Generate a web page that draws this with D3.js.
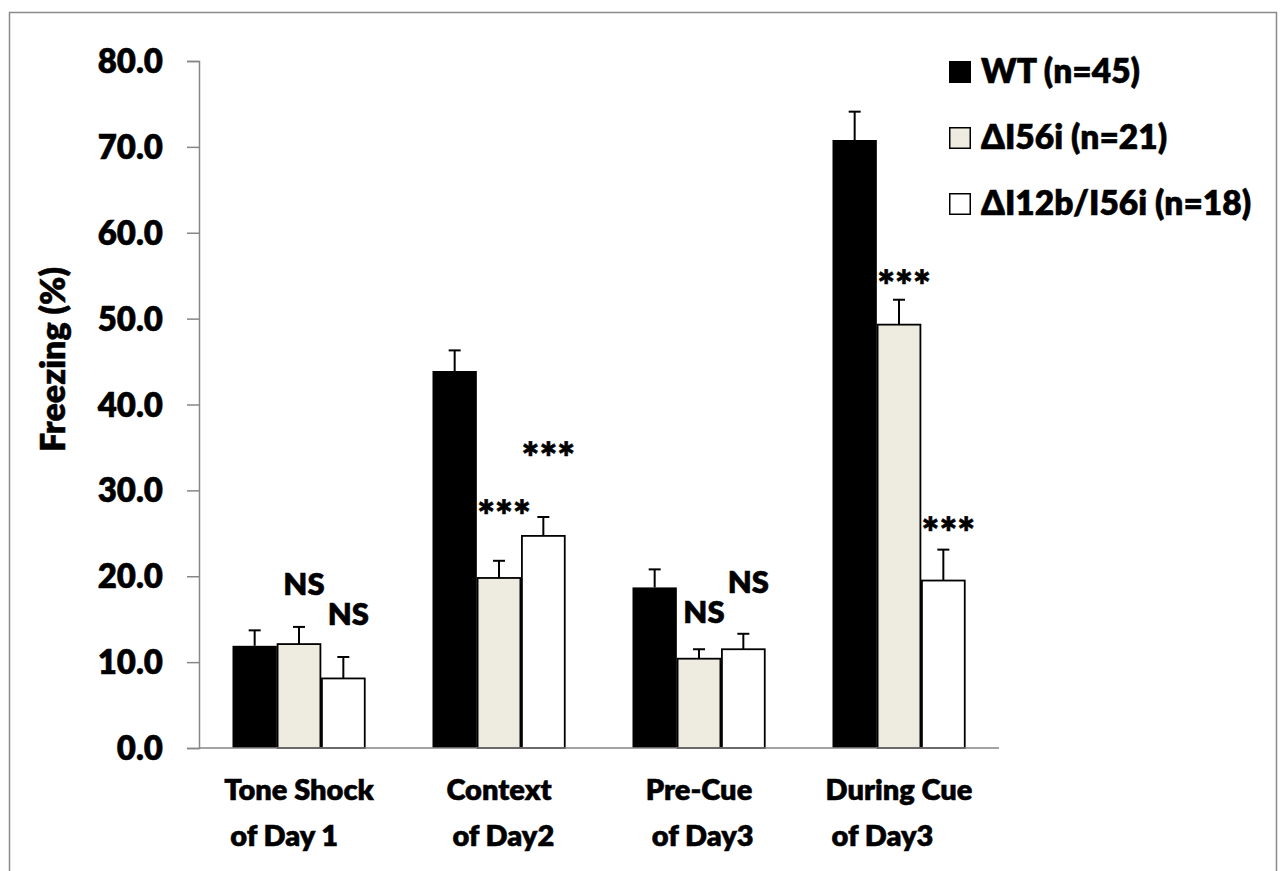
<!DOCTYPE html>
<html>
<head>
<meta charset="utf-8">
<script src="https://cdn.jsdelivr.net/npm/d3@7"></script>
<style>
  html, body { margin: 0; padding: 0; background: #fff; }
  svg { display: block; }
  text { font-family: Lato, "Open Sans", sans-serif; font-weight: 800; fill: #000; stroke: #000; stroke-width: 0.5px; }
</style>
</head>
<body>
<svg id="chart" width="1287" height="871"></svg>
<script>
// Freezing behaviour by test phase and genotype
const categories = [
  ["Tone Shock", "of Day 1"],
  ["Context", "of Day2"],
  ["Pre-Cue", "of Day3"],
  ["During Cue", "of Day3"]
];
const seriesNames = ["WT (n=45)", "\u0394I56i (n=21)", "\u0394I12b/I56i (n=18)"];
const seriesColors = ["#000000", "#EEECE1", "#FFFFFF"];

// mean freezing (%) per phase, one array per genotype
const wtMean      = [11.9, 43.9, 18.7, 70.8];
const i56Mean     = [12.1, 19.8, 10.4, 49.3];
const i12bI56Mean = [8.1, 24.7, 11.5, 19.5];
// SEM
const wtErr       = [1.8, 2.4, 2.1, 3.3];
const i56Err      = [2.0, 2.0, 1.1, 2.9];
const i12bI56Err  = [2.5, 2.2, 1.8, 3.6];

// significance labels vs WT, with the freezing level they sit at
const sigText  = [["", "NS", "NS"], ["", "***", "***"], ["", "NS", "NS"], ["", "***", "***"]];
const sigLevel = [[0, 17.8, 14.3], [0, 25.3, 32.0], [0, 14.5, 18.1], [0, 52.0, 23.3]];

const yTicks = [0, 10, 20, 30, 40, 50, 60, 70, 80];
const yTitle = "Freezing (%)";

const means = [wtMean, i56Mean, i12bI56Mean];
const errs = [wtErr, i56Err, i12bI56Err];

const svg = d3.select("#chart");
const catIdx = d3.range(categories.length);
const serIdx = d3.range(seriesNames.length);

// outer frame
svg.append("rect")
  .attr("x", 9.5).attr("y", 12.5)
  .attr("width", 1267).attr("height", 900)
  .attr("fill", "none").attr("stroke", "#8a8a8a").attr("stroke-width", 1.5);

const plot = { left: 199, right: 999, top: 61, bottom: 748 };

const y = d3.scaleLinear().domain([0, 80]).range([plot.bottom, plot.top]);
const x0 = d3.scaleBand().domain(catIdx).range([plot.left, plot.right])
  .paddingInner(0.335).paddingOuter(0.1675);
const x1 = d3.scaleBand().domain(serIdx).range([0, x0.bandwidth()]);

// y axis
const yAxis = svg.append("g")
  .attr("transform", `translate(${plot.left},0)`)
  .call(d3.axisLeft(y).tickValues(yTicks).tickFormat(d3.format(".1f")).tickSize(12).tickPadding(24));
yAxis.select(".domain").attr("stroke", "#868686").attr("stroke-width", 1.5);
yAxis.selectAll(".tick line").attr("stroke", "#868686").attr("stroke-width", 1.5);
yAxis.selectAll(".tick text")
  .attr("font-size", 33).attr("font-family", "Lato, sans-serif").attr("font-weight", 800)
  .attr("fill", "#000").attr("dy", "0.35em");

// y title
svg.append("text")
  .attr("transform", `translate(65,${(plot.top + plot.bottom) / 2 - 45}) rotate(-90)`)
  .attr("text-anchor", "middle")
  .attr("font-size", 34)
  .text(yTitle);

// bars
const groups = svg.append("g").selectAll("g").data(catIdx).join("g")
  .attr("transform", c => `translate(${x0(c)},0)`);

groups.selectAll("rect.bar").data(c => serIdx.map(s => ({ c, s }))).join("rect")
  .attr("class", "bar")
  .attr("x", d => x1(d.s) + (d.s === 0 ? 0 : 0.75))
  .attr("y", d => y(means[d.s][d.c]))
  .attr("width", d => x1.bandwidth() - (d.s === 0 ? 0 : 1.5))
  .attr("height", d => y(0) - y(means[d.s][d.c]))
  .attr("fill", d => seriesColors[d.s])
  .attr("stroke", "#000")
  .attr("stroke-width", d => d.s === 0 ? 0 : 1.8);

// error bars (upper only)
groups.selectAll("g.err").data(c => serIdx.map(s => ({ c, s }))).join("g")
  .attr("class", "err")
  .each(function (d) {
    const g = d3.select(this);
    const cx = x1(d.s) + x1.bandwidth() / 2;
    const top = y(means[d.s][d.c] + errs[d.s][d.c]);
    g.append("line").attr("x1", cx).attr("x2", cx)
      .attr("y1", y(means[d.s][d.c])).attr("y2", top)
      .attr("stroke", "#000").attr("stroke-width", 2);
    g.append("line").attr("x1", cx - 6).attr("x2", cx + 6)
      .attr("y1", top).attr("y2", top)
      .attr("stroke", "#000").attr("stroke-width", 2);
  });

// significance labels
groups.selectAll("text.sig").data(c => serIdx.map(s => ({ c, s })).filter(d => sigText[d.c][d.s])).join("text")
  .attr("class", "sig")
  .attr("x", d => x1(d.s) + x1.bandwidth() / 2 + 5)
  .attr("y", d => y(sigLevel[d.c][d.s]))
  .attr("text-anchor", "middle")
  .attr("font-size", d => sigText[d.c][d.s] === "NS" ? 31 : 42)
  .text(d => sigText[d.c][d.s]);

// x axis line
svg.append("line")
  .attr("x1", plot.left).attr("x2", plot.right)
  .attr("y1", plot.bottom).attr("y2", plot.bottom)
  .attr("stroke", "#868686").attr("stroke-width", 1.5);

// category labels: first line centred, second line starting just inside it
catIdx.forEach(c => {
  const cx = x0(c) + x0.bandwidth() / 2;
  const l1 = svg.append("text")
    .attr("x", cx).attr("y", 800)
    .attr("text-anchor", "middle").attr("font-size", 29)
    .text(categories[c][0]);
  const w = l1.node().getComputedTextLength();
  svg.append("text")
    .attr("x", cx - w / 2 + 6).attr("y", 846)
    .attr("text-anchor", "start").attr("font-size", 29)
    .text(categories[c][1]);
});

// legend
const legend = svg.append("g").attr("transform", "translate(949,0)");
const legRows = legend.selectAll("g").data(serIdx).join("g")
  .attr("transform", s => `translate(0,${61 + s * 66})`);
legRows.append("rect")
  .attr("x", 0.75).attr("y", 0.75).attr("width", 20.5).attr("height", 20.5)
  .attr("fill", s => seriesColors[s]).attr("stroke", "#000").attr("stroke-width", 1.5);
legRows.append("text")
  .attr("x", 32).attr("y", 22)
  .attr("font-size", 33.5)
  .text(s => seriesNames[s]);
</script>
</body>
</html>
